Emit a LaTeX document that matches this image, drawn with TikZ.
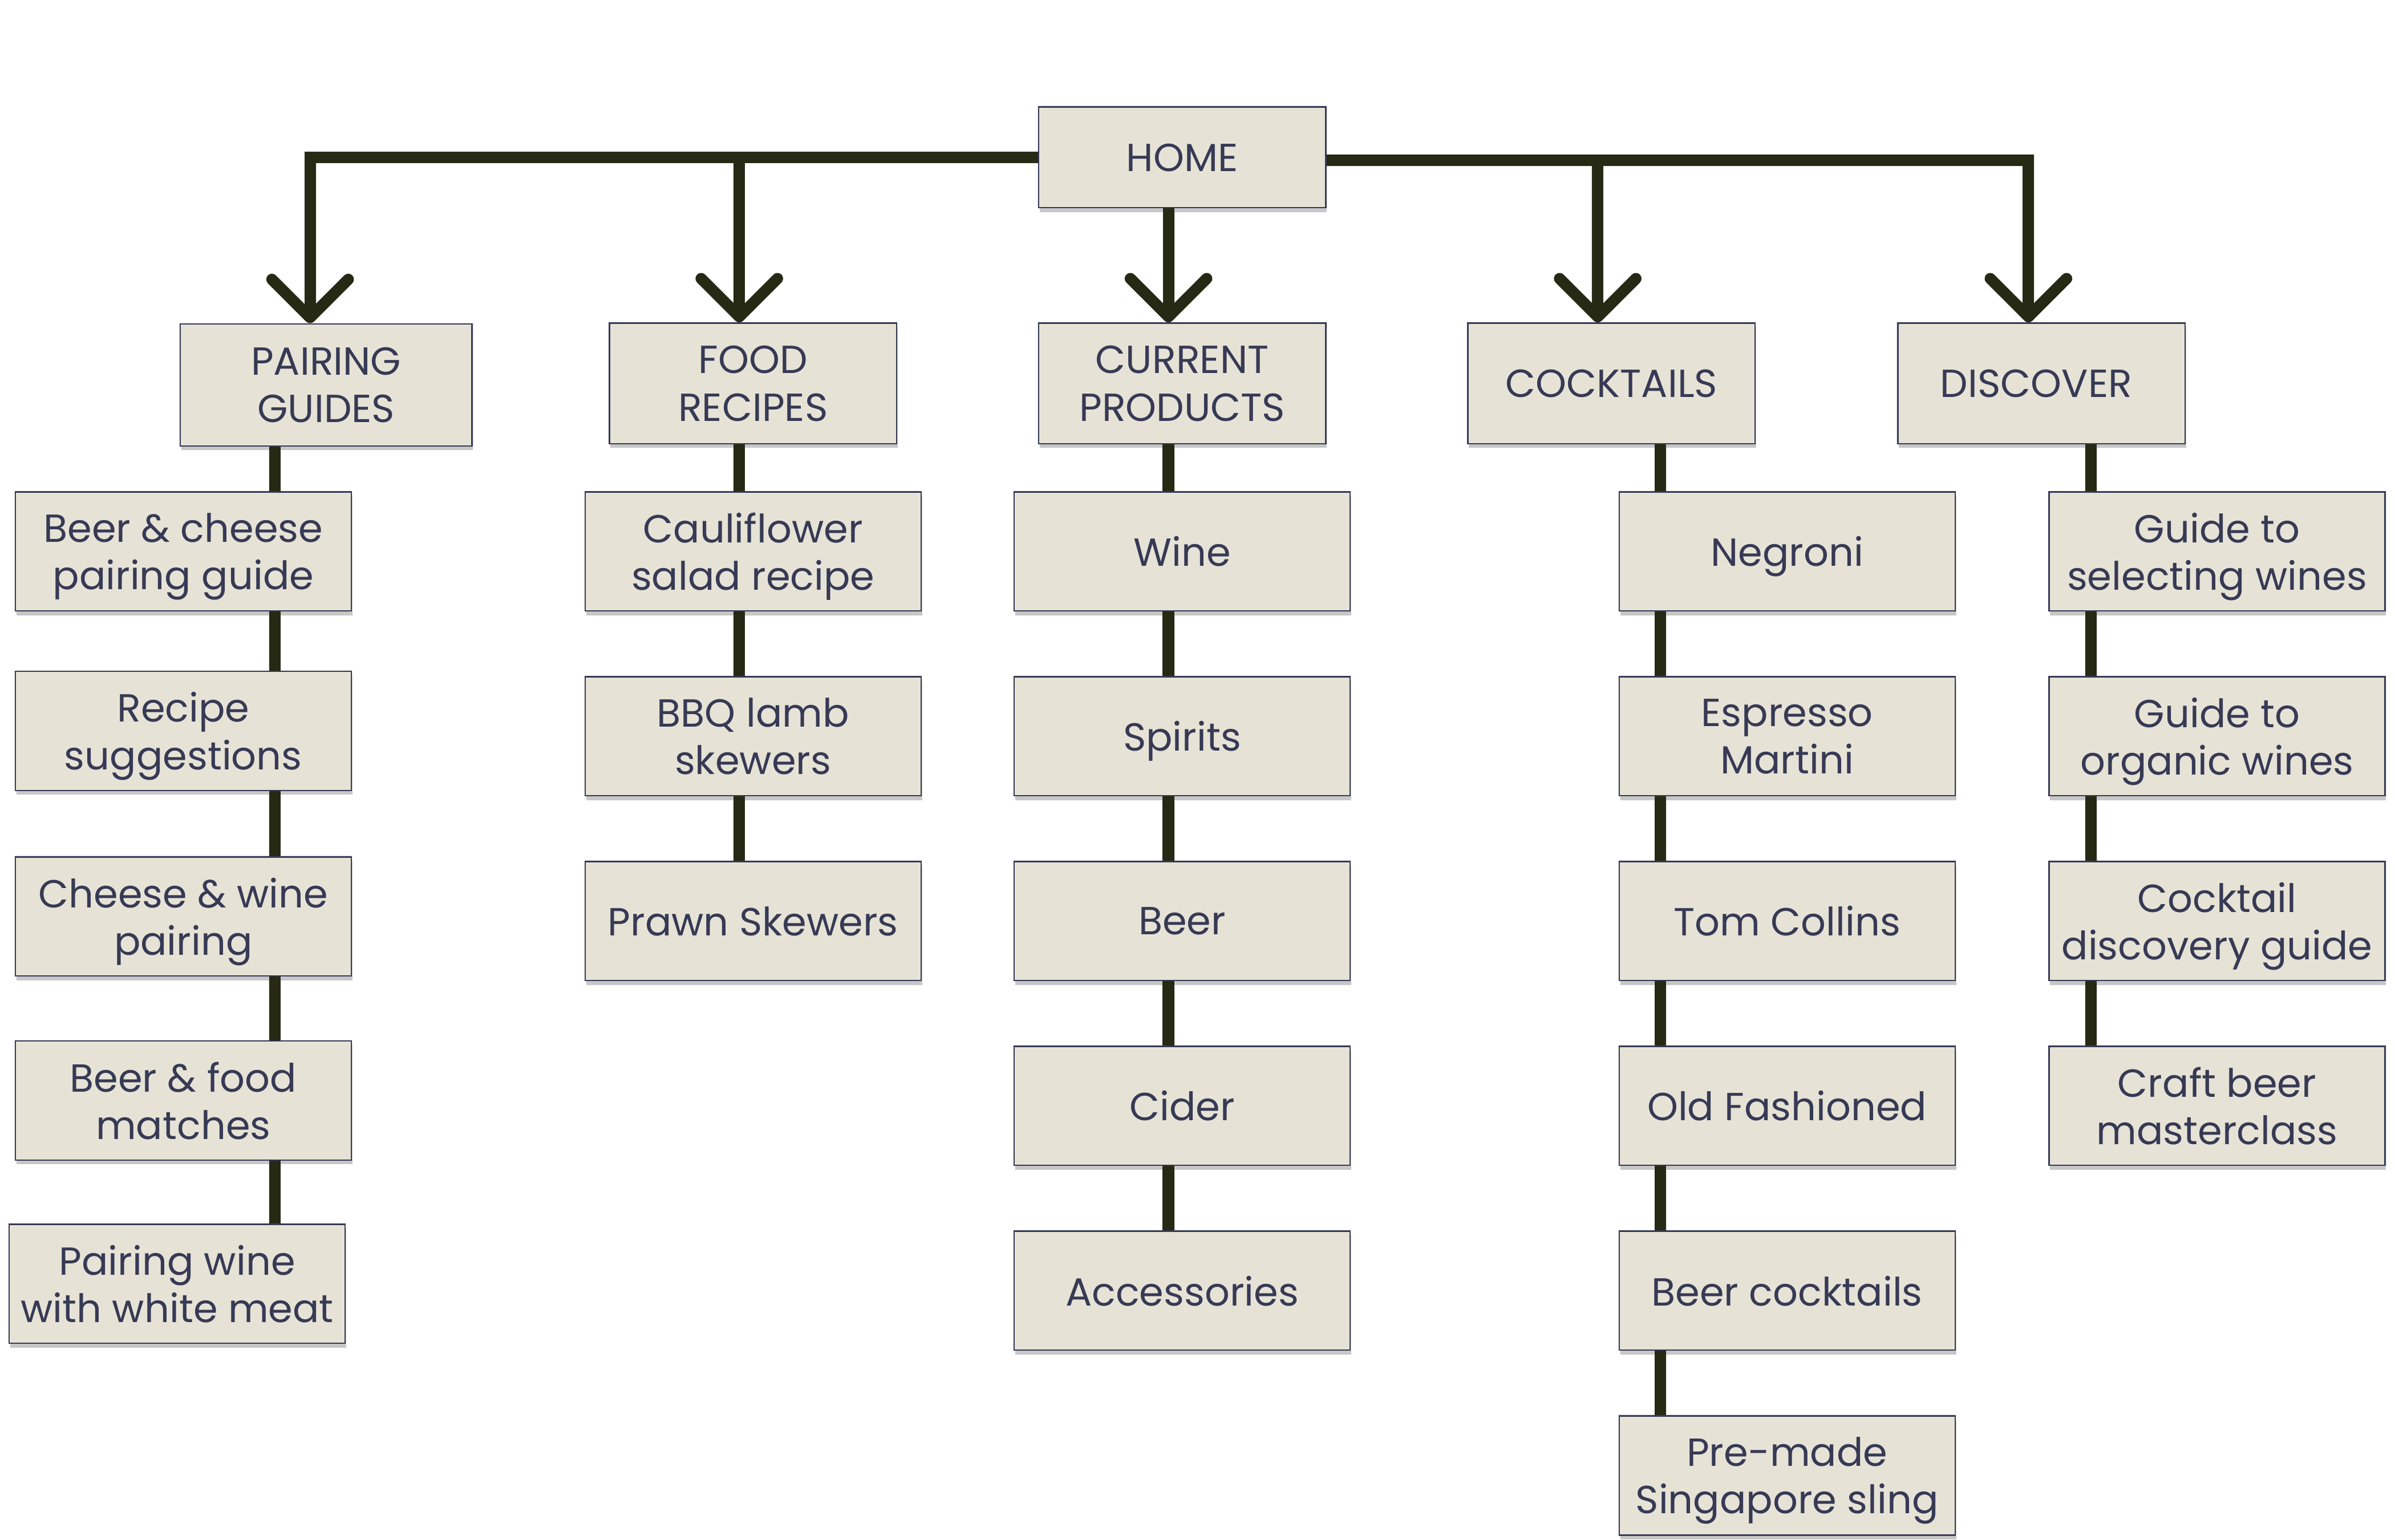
\documentclass[tikz,border=0pt]{standalone}
\usepackage{fontspec}
\setmainfont{Poppins}
\usetikzlibrary{arrows.meta,shadows}
\definecolor{boxfill}{HTML}{E6E3D6}
\definecolor{boxtext}{HTML}{373A55}
\definecolor{linkcol}{HTML}{262A14}
\tikzset{
    basebox/.style={draw=boxtext, line width=0.5pt, fill=boxfill, text=boxtext,
        align=center, inner sep=1pt, text depth=0pt, font=\fontsize{14.6}{17.7}\selectfont,
        drop shadow={shadow xshift=0.4pt, shadow yshift=-1.6pt, fill=black, opacity=0.22}},
    headbox/.style={basebox, minimum width=3.76cm, minimum height=1.58cm},
    itembox/.style={basebox, minimum width=4.4cm, minimum height=1.56cm},
    link/.style={draw=linkcol, line width=4.4pt},
    arrowlink/.style={draw=linkcol, line width=4.2pt,
        -{Straight Barb[length=0.5cm, width=1.0cm, round]}}
}
\begin{document}
\begin{tikzpicture}[x=0.02cm, y=-0.02cm]
\useasboundingbox (0,0) rectangle (1568,1008);

% Home and sections
\node[basebox, minimum width=3.76cm, minimum height=1.32cm] (home) at (774,103) {HOME};
\node[headbox, minimum width=3.82cm, minimum height=1.6cm] (pair) at (213.5,252) {PAIRING\\GUIDES};
\foreach \name/\x/\txt in {
    food/493/{FOOD\\RECIPES},
    prod/774/{CURRENT\\PRODUCTS},
    cock/1055/{COCKTAILS},
    disc/1336.5/{DISCOVER}
} {
    \node[headbox] (\name) at (\x,251) {\txt};
}

% Arrows from home
\draw[arrowlink] (home.west) -| ([xshift=-0.21cm]pair.north);
\draw[arrowlink] (home.west) -| ([xshift=-0.18cm]food.north);
\draw[arrowlink] ([xshift=-0.18cm]home.south) -- ([xshift=-0.18cm]prod.north);
\draw[arrowlink] ([yshift=-0.04cm]home.east) -| ([xshift=-0.18cm]cock.north);
\draw[arrowlink] ([yshift=-0.04cm]home.east) -| ([xshift=-0.17cm]disc.north);

% Pairing guides
\node[itembox] (pair1) at (120,361) {Beer \& cheese\\pairing guide};
\node[itembox] (pair2) at (120,478.5) {Recipe\\suggestions};
\node[itembox] (pair3) at (120,600) {Cheese \& wine\\pairing};
\node[itembox] (pair4) at (120,720.5) {Beer \& food\\matches};
\node[itembox] (pair5) at (116,840.5) {Pairing wine\\with white meat};
\coordinate (pairspine) at ([xshift=-0.67cm]pair.south);
\draw[link] (pair.south -| pairspine) -- (pair1.north -| pairspine)
    (pair1.south -| pairspine) -- (pair2.north -| pairspine)
    (pair2.south -| pairspine) -- (pair3.north -| pairspine)
    (pair3.south -| pairspine) -- (pair4.north -| pairspine)
    (pair4.south -| pairspine) -- (pair5.north -| pairspine);

% Food recipes
\node[itembox] (food1) at (493,361) {Cauliflower\\salad recipe};
\node[itembox] (food2) at (493,482) {BBQ lamb\\skewers};
\node[itembox] (food3) at (493,603) {Prawn Skewers};
\coordinate (foodspine) at ([xshift=-0.18cm]food.south);
\draw[link] (food.south -| foodspine) -- (food1.north -| foodspine)
    (food1.south -| foodspine) -- (food2.north -| foodspine)
    (food2.south -| foodspine) -- (food3.north -| foodspine);

% Current products
\node[itembox] (prod1) at (774,361) {Wine};
\node[itembox] (prod2) at (774,482) {Spirits};
\node[itembox] (prod3) at (774,603) {Beer};
\node[itembox] (prod4) at (774,724) {Cider};
\node[itembox] (prod5) at (774,845) {Accessories};
\coordinate (prodspine) at ([xshift=-0.18cm]prod.south);
\draw[link] (prod.south -| prodspine) -- (prod1.north -| prodspine)
    (prod1.south -| prodspine) -- (prod2.north -| prodspine)
    (prod2.south -| prodspine) -- (prod3.north -| prodspine)
    (prod3.south -| prodspine) -- (prod4.north -| prodspine)
    (prod4.south -| prodspine) -- (prod5.north -| prodspine);

% Cocktails
\node[itembox] (cock1) at (1170,361) {Negroni};
\node[itembox] (cock2) at (1170,482) {Espresso\\Martini};
\node[itembox] (cock3) at (1170,603) {Tom Collins};
\node[itembox] (cock4) at (1170,724) {Old Fashioned};
\node[itembox] (cock5) at (1170,845) {Beer cocktails};
\node[itembox] (cock6) at (1170,966) {Pre-made\\Singapore sling};
\coordinate (cockspine) at ([xshift=0.64cm]cock.south);
\draw[link] (cock.south -| cockspine) -- (cock1.north -| cockspine)
    (cock1.south -| cockspine) -- (cock2.north -| cockspine)
    (cock2.south -| cockspine) -- (cock3.north -| cockspine)
    (cock3.south -| cockspine) -- (cock4.north -| cockspine)
    (cock4.south -| cockspine) -- (cock5.north -| cockspine)
    (cock5.south -| cockspine) -- (cock6.north -| cockspine);

% Discover
\node[itembox] (disc1) at (1451.5,361) {Guide to\\selecting wines};
\node[itembox] (disc2) at (1451.5,482) {Guide to\\organic wines};
\node[itembox] (disc3) at (1451.5,603) {Cocktail\\discovery guide};
\node[itembox] (disc4) at (1451.5,724) {Craft beer\\masterclass};
\coordinate (discspine) at ([xshift=0.65cm]disc.south);
\draw[link] (disc.south -| discspine) -- (disc1.north -| discspine)
    (disc1.south -| discspine) -- (disc2.north -| discspine)
    (disc2.south -| discspine) -- (disc3.north -| discspine)
    (disc3.south -| discspine) -- (disc4.north -| discspine);
\end{tikzpicture}
\end{document}
